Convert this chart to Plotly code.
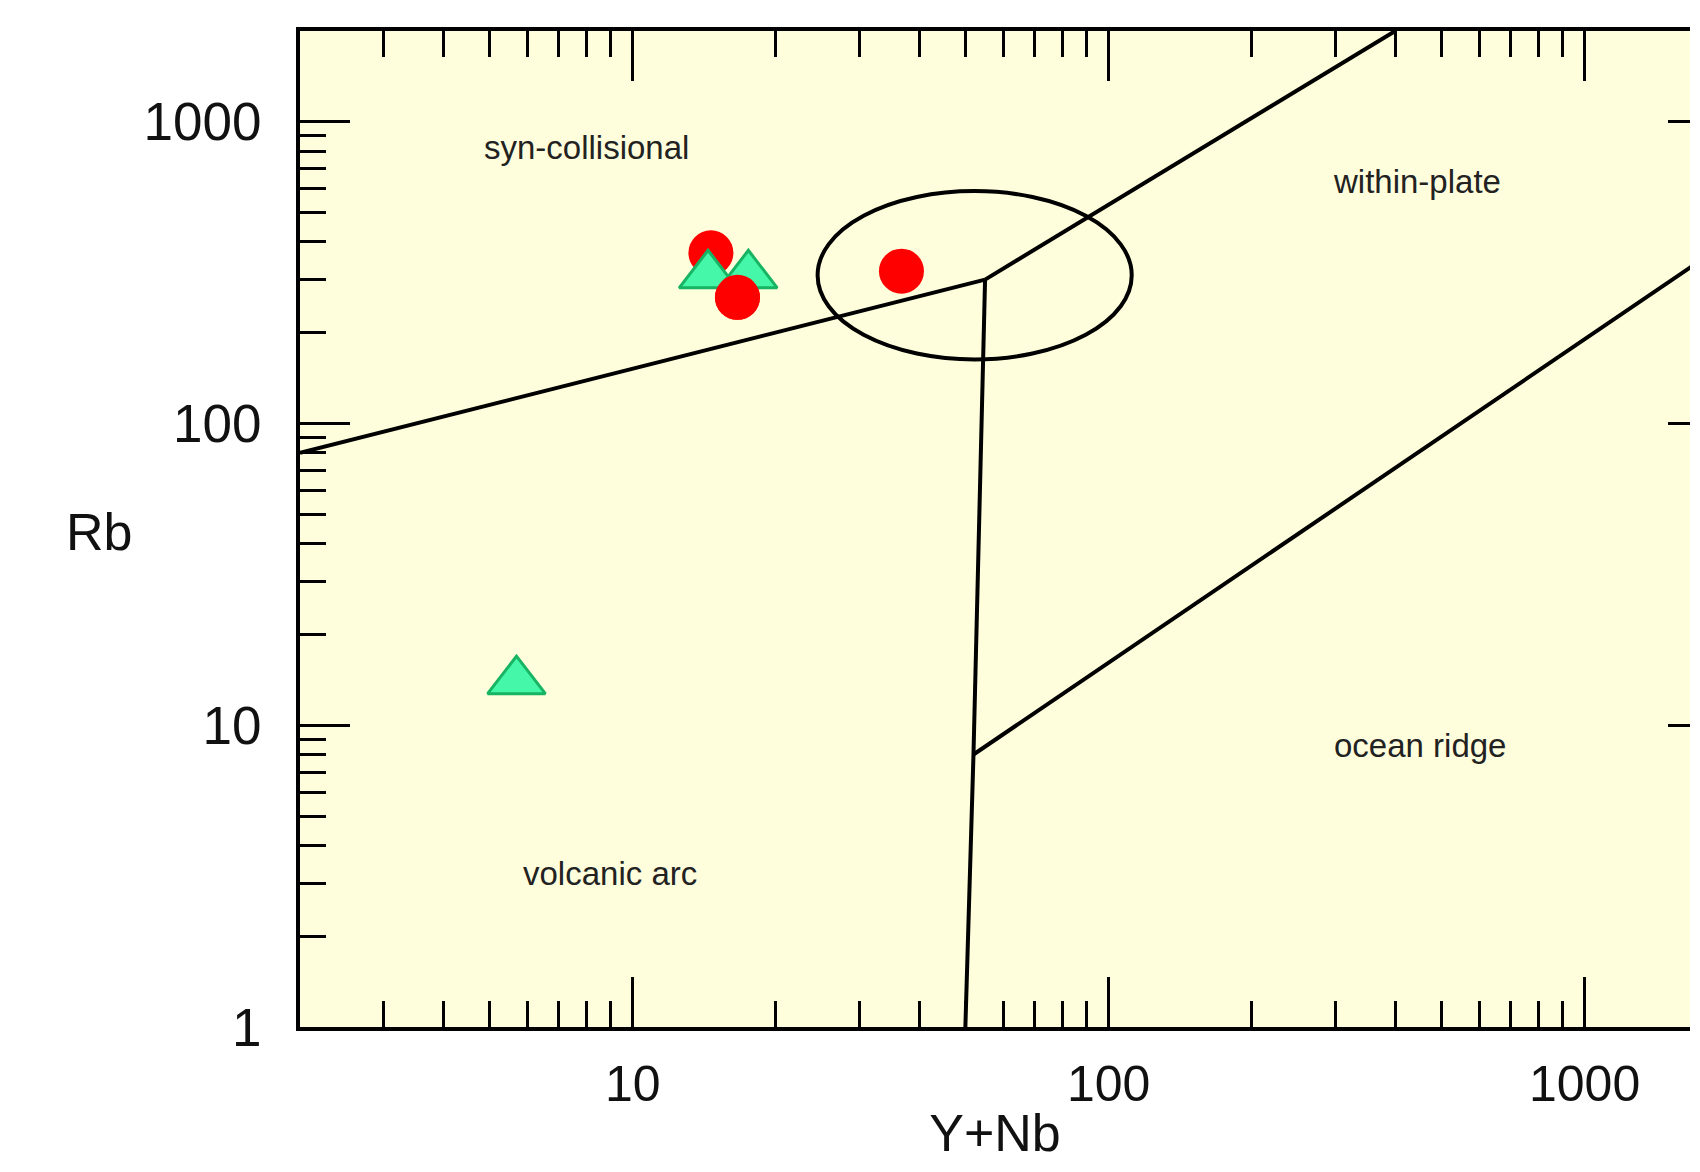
import numpy as np
import plotly.graph_objects as go

# ---- sample data ----
red_x = [14.6, 16.6, 36.7]
red_y = [368, 262, 320]
green_x = [14.4, 17.5, 5.7]
green_y = [310, 310, 14.0]

# ---- field boundaries (Pearce et al. 1984) ----
syn_vag_x = [2, 55]
syn_vag_y = [80, 300]
syn_wpg_x = [55, 400]
syn_wpg_y = [300, 2000]
vag_wpg_x = [55, 52, 50]
vag_wpg_y = [300, 8, 1]
org_wpg_x = [52, 2000]
org_wpg_y = [8, 400]

# post-collisional ellipse: centre (data) and half-axes (decades)
ell_cx, ell_cy = 52.3, 310
ell_rx_dec, ell_ry_dec = 0.330, 0.279

field_labels = ["syn-collisional", "within-plate", "ocean ridge", "volcanic arc"]
label_x = [8.0, 444, 451, 8.96]
label_y = [820, 635, 8.6, 3.23]

x_ticks = [10, 100, 1000]
y_ticks = [1, 10, 100, 1000]
x_range = [2, 1665]
y_range = [1, 2000]

FONT = "Liberation Sans, Arial, sans-serif"
BG = "#FFFEDC"
LW = 4

fig = go.Figure()

for xs, ys in [(syn_vag_x, syn_vag_y), (syn_wpg_x, syn_wpg_y),
               (vag_wpg_x, vag_wpg_y), (org_wpg_x, org_wpg_y)]:
    fig.add_trace(go.Scatter(x=xs, y=ys, mode="lines",
                             line=dict(color="black", width=LW),
                             showlegend=False, hoverinfo="skip"))

lcx, lcy = np.log10(ell_cx), np.log10(ell_cy)
fig.add_shape(type="circle", xref="x", yref="y",
              x0=10 ** (lcx - ell_rx_dec), x1=10 ** (lcx + ell_rx_dec),
              y0=10 ** (lcy - ell_ry_dec), y1=10 ** (lcy + ell_ry_dec),
              line=dict(color="black", width=LW), layer="above")

fig.add_trace(go.Scatter(x=red_x, y=red_y, mode="markers",
                         marker=dict(symbol="circle", size=45, color="#FF0000",
                                     line=dict(width=0)),
                         showlegend=False))
fig.add_trace(go.Scatter(x=green_x, y=green_y, mode="markers",
                         marker=dict(symbol="triangle-up", size=50, color="#45F7A8",
                                     line=dict(width=3, color="#17B463")),
                         showlegend=False))
# one red marker sits above the triangles in the reference
fig.add_trace(go.Scatter(x=red_x[1:2], y=red_y[1:2], mode="markers",
                         marker=dict(symbol="circle", size=45, color="#FF0000",
                                     line=dict(width=0)),
                         showlegend=False))

# empty trace so that the right-hand tick axis is drawn
fig.add_trace(go.Scatter(x=[], y=[], xaxis="x", yaxis="y2", mode="markers",
                         showlegend=False, hoverinfo="skip"))

for t, x, y in zip(field_labels, label_x, label_y):
    fig.add_annotation(x=np.log10(x), y=np.log10(y), text=t, showarrow=False,
                       font=dict(family=FONT, size=33, color="#222222"))

fig.add_annotation(xref="paper", yref="y", x=-0.1445, y=np.log10(43.7), text="Rb",
                   xanchor="center", yanchor="middle",
                   showarrow=False, font=dict(family=FONT, size=52, color="#111111"))

minor_ticks = dict(ticks="inside", ticklen=26, tickwidth=3, tickcolor="black",
                   dtick="D1", showgrid=False)

fig.update_xaxes(type="log", showline=True, linecolor="black", linewidth=4, mirror="ticks",
                 ticks="inside", ticklen=50, tickwidth=3, tickcolor="black",
                 showgrid=False, zeroline=False, minor=minor_ticks,
                 range=[np.log10(x_range[0]), np.log10(x_range[1])],
                 tickmode="array", tickvals=x_ticks, ticktext=[str(v) for v in x_ticks],
                 tickfont=dict(family=FONT, size=50, color="#111111"),
                 ticklabelstandoff=10,
                 title=dict(text="Y+Nb", font=dict(family=FONT, size=52, color="#111111"),
                            standoff=14))
fig.update_yaxes(type="log", showline=True, linecolor="black", linewidth=4, mirror=False,
                 ticks="inside", ticklen=50, tickwidth=3, tickcolor="black",
                 showgrid=False, zeroline=False, minor=minor_ticks,
                 range=[np.log10(y_range[0]), np.log10(y_range[1])],
                 tickmode="array", tickvals=y_ticks, ticktext=[str(v) for v in y_ticks],
                 tickfont=dict(family=FONT, size=53, color="#111111"),
                 ticklabelstandoff=24)

# right-hand tick stubs (the frame itself continues past the picture's edge)
fig.update_layout(yaxis2=dict(type="log", overlaying="y", side="right", anchor="x",
                              range=[np.log10(y_range[0]), np.log10(y_range[1])],
                              tickmode="array", tickvals=y_ticks, showticklabels=False,
                              ticks="inside", ticklen=22, tickwidth=3, tickcolor="black",
                              showline=False, showgrid=False, zeroline=False))

fig.update_layout(width=1682, height=1154,
                  margin=dict(l=292, r=0, t=23, b=132),
                  plot_bgcolor=BG, paper_bgcolor="white")

fig.write_html("out.html")
